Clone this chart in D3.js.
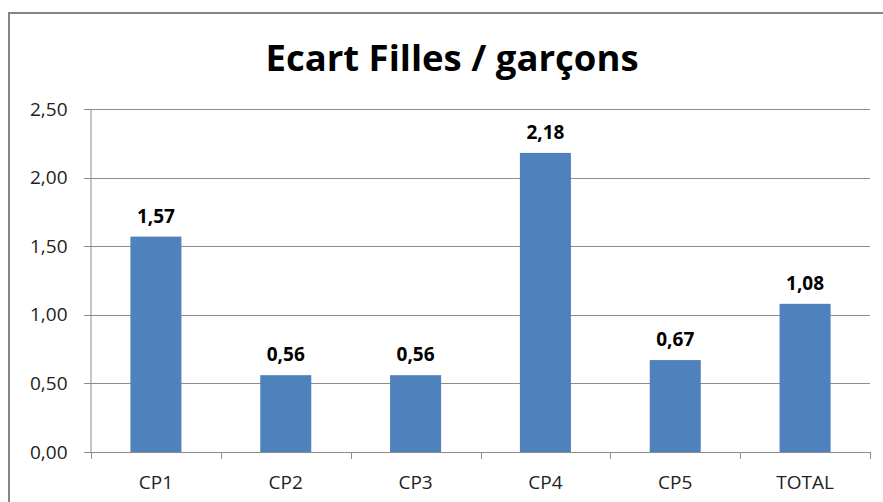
<!DOCTYPE html>
<html>
<head>
<meta charset="utf-8">
<script src="https://cdn.jsdelivr.net/npm/d3@7/dist/d3.min.js"></script>
<style>
  body { margin: 0; background: #fff; }
  svg { display: block; font-family: "Open Sans", sans-serif; }
</style>
</head>
<body>
<svg id="chart"></svg>
<script>
var categories = ['CP1', 'CP2', 'CP3', 'CP4', 'CP5', 'TOTAL'];
var values = [1.57, 0.56, 0.56, 2.18, 0.67, 1.08];
var yTicks = [0, 0.5, 1, 1.5, 2, 2.5];
var title = 'Ecart Filles / garçons';

var svgWidth = 883;
var svgHeight = 502;
var plot = { left: 91, right: 870, top: 109, bottom: 452 };

var fmt = function(v){
    return d3.format('.2f')(v).replace('.', ',');
};

var svg = d3.select('#chart')
    .attr('width', svgWidth)
    .attr('height', svgHeight);

// cadre du graphique
svg.append('rect')
    .attr('x', 9).attr('y', 13)
    .attr('width', svgWidth + 10).attr('height', svgHeight)
    .attr('fill', '#fff')
    .attr('stroke', '#868686')
    .attr('stroke-width', 2);

svg.append('text')
    .attr('x', 452).attr('y', 71)
    .attr('text-anchor', 'middle')
    .attr('font-size', 36.5)
    .attr('font-weight', 'bold')
    .attr('fill', '#000')
    .text(title);

var xScale = d3.scaleBand()
    .domain(categories)
    .range([plot.left, plot.right])
    .paddingInner(0.607)
    .paddingOuter(0.607 / 2);

var xOuter = d3.scaleBand()
    .domain(categories)
    .range([plot.left, plot.right]);

var yScale = d3.scaleLinear()
    .domain([0, 2.5])
    .range([plot.bottom, plot.top]);

// grille
svg.append('g')
    .selectAll('line')
    .data(yTicks)
    .enter()
    .append('line')
    .attr('x1', plot.left - 7)
    .attr('x2', plot.right)
    .attr('y1', function(d){ return Math.round(yScale(d)) + 0.5; })
    .attr('y2', function(d){ return Math.round(yScale(d)) + 0.5; })
    .attr('stroke', '#8c8c8c')
    .attr('stroke-width', 1);

// axe Y
var yAxis = d3.axisLeft(yScale).tickValues(yTicks).tickFormat(fmt).tickSize(0).tickPadding(23);
var gy = svg.append('g')
    .attr('transform', 'translate(' + (plot.left - 0.5) + ',0)')
    .call(yAxis);
gy.select('.domain').attr('stroke', '#8c8c8c');
gy.selectAll('text')
    .attr('font-size', 19)
    .attr('fill', '#222')
    .attr('font-family', '"Open Sans", sans-serif');

// barres
svg.selectAll('.bar')
    .data(values)
    .enter()
    .append('rect')
    .classed('bar', true)
    .attr('x', function(d, i){ return xScale(categories[i]); })
    .attr('width', xScale.bandwidth())
    .attr('y', function(d){ return yScale(d); })
    .attr('height', function(d){ return plot.bottom - yScale(d); })
    .attr('fill', '#4f81bd');

// axe X (ticks entre les categories)
svg.append('line')
    .attr('x1', plot.left).attr('x2', plot.right)
    .attr('y1', plot.bottom + 0.5).attr('y2', plot.bottom + 0.5)
    .attr('stroke', '#8c8c8c');

var bounds = categories.map(function(c){ return xOuter(c); }).concat([plot.right]);
svg.append('g')
    .selectAll('line')
    .data(bounds)
    .enter()
    .append('line')
    .attr('x1', function(d){ return Math.round(d) + 0.5; })
    .attr('x2', function(d){ return Math.round(d) + 0.5; })
    .attr('y1', plot.bottom)
    .attr('y2', plot.bottom + 7)
    .attr('stroke', '#8c8c8c');

svg.append('g')
    .selectAll('text')
    .data(categories)
    .enter()
    .append('text')
    .attr('x', function(d){ return xOuter(d) + xOuter.bandwidth() / 2; })
    .attr('y', 489)
    .attr('text-anchor', 'middle')
    .attr('font-size', 19)
    .attr('fill', '#222')
    .text(function(d){ return d; });

// etiquettes de valeurs
svg.selectAll('.label')
    .data(values)
    .enter()
    .append('text')
    .classed('label', true)
    .attr('x', function(d, i){ return xScale(categories[i]) + xScale.bandwidth() / 2; })
    .attr('y', function(d){ return yScale(d) - 14; })
    .attr('text-anchor', 'middle')
    .attr('font-size', 19)
    .attr('font-weight', 'bold')
    .attr('fill', '#000')
    .text(function(d){ return fmt(d); });
</script>
</body>
</html>
